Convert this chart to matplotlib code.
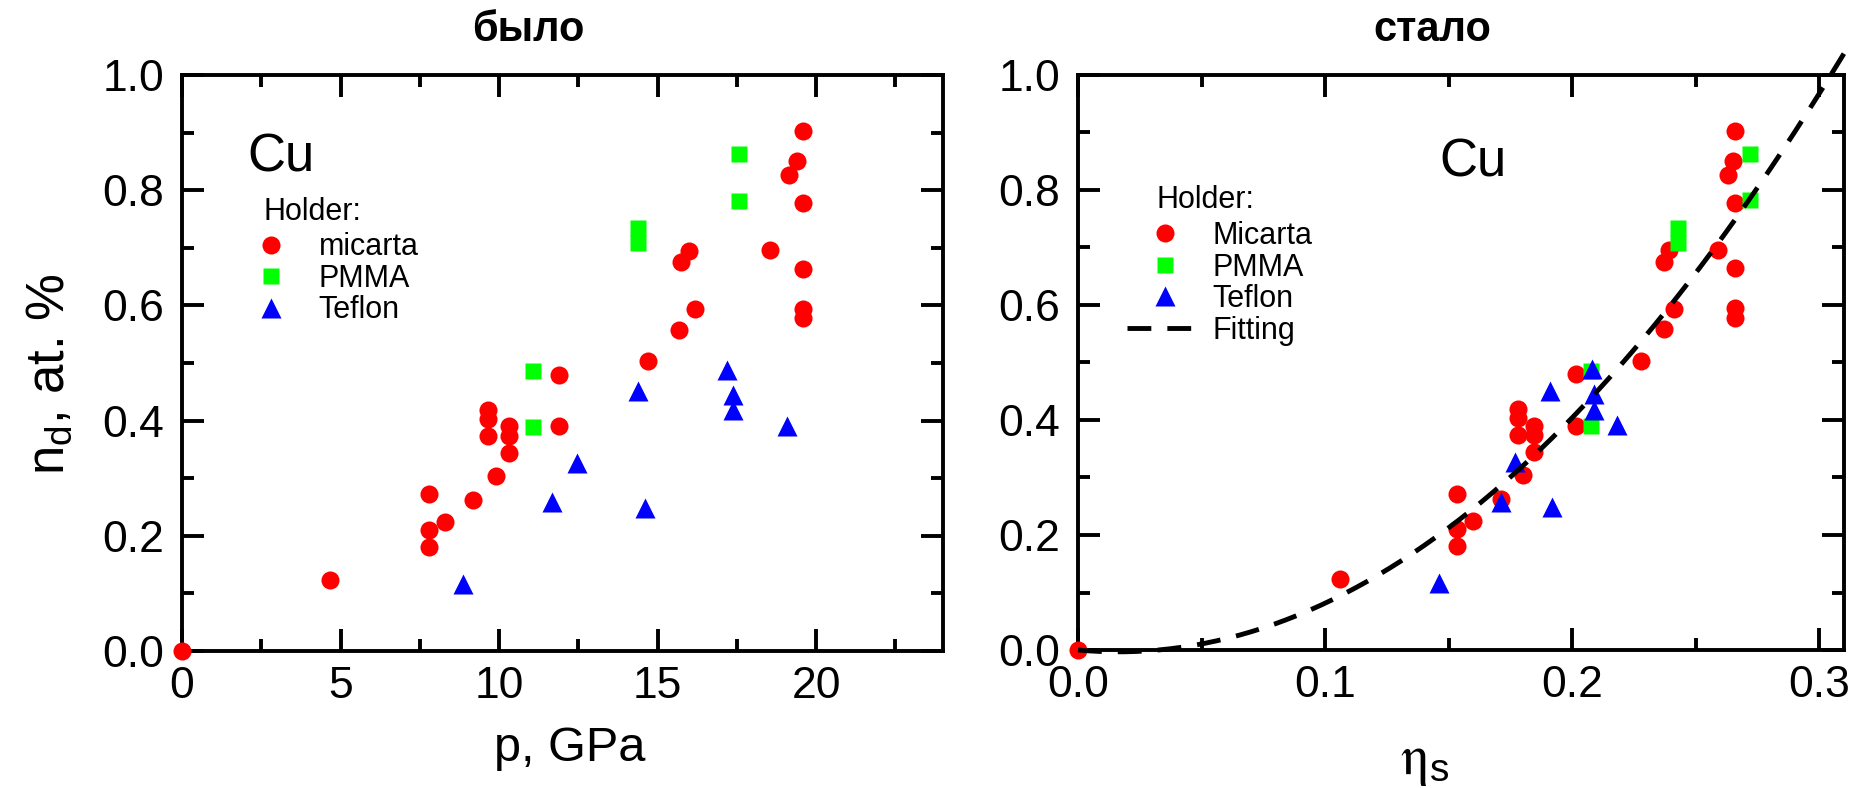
import numpy as np
import matplotlib
matplotlib.use('Agg')
import matplotlib.pyplot as plt
from matplotlib.ticker import MultipleLocator, FormatStrFormatter

plt.rcParams['font.family'] = ['Liberation Sans', 'DejaVu Sans']

# defect concentration n_d (at. %) with pressure p (GPa) and eta_s, by holder
micarta_nd = [0.903, 0.851, 0.826, 0.777, 0.696, 0.695, 0.675, 0.664, 0.593, 0.558,
              0.594, 0.578, 0.503, 0.480, 0.390, 0.419, 0.403, 0.374, 0.390, 0.374,
              0.344, 0.304, 0.262, 0.272, 0.224, 0.210, 0.181, 0.124, 0.0]
micarta_p = [19.58, 19.39, 19.14, 19.58, 18.53, 16.0, 15.75, 19.58, 16.18, 15.67,
             19.58, 19.58, 14.69, 11.89, 11.89, 9.66, 9.66, 9.66, 10.3, 10.3,
             10.3, 9.89, 9.18, 7.79, 8.28, 7.79, 7.79, 4.66, 0.0]
micarta_eta = [0.266, 0.265, 0.263, 0.266, 0.259, 0.239, 0.237, 0.266, 0.241, 0.237,
               0.266, 0.266, 0.228, 0.2015, 0.2015, 0.178, 0.178, 0.178, 0.1846, 0.1846,
               0.1846, 0.180, 0.171, 0.1533, 0.160, 0.1533, 0.1533, 0.106, 0.0]

pmma_nd = [0.862, 0.782, 0.734, 0.708, 0.486, 0.389]
pmma_p = [17.58, 17.58, 14.37, 14.37, 11.07, 11.07]
pmma_eta = [0.272, 0.272, 0.243, 0.243, 0.2075, 0.2075]

teflon_nd = [0.488, 0.451, 0.445, 0.418, 0.391, 0.327, 0.258, 0.249, 0.117]
teflon_p = [17.18, 14.37, 17.39, 17.39, 19.08, 12.46, 11.66, 14.6, 8.87]
teflon_eta = [0.208, 0.191, 0.209, 0.209, 0.218, 0.177, 0.171, 0.192, 0.146]

# quadratic fit n_d = A*eta^2 + B*eta
FIT_A = 12.06
FIT_B = -0.392
FIT_X_MAX = 0.31

W, H = 1855, 788
fig = plt.figure(figsize=(W / 100, H / 100), dpi=100)
ax1 = fig.add_axes([182 / W, 1 - 651 / H, 761 / W, 576 / H])
ax2 = fig.add_axes([1078 / W, 1 - 650 / H, 766 / W, 575 / H])


def style_axes(ax):
    for s in ax.spines.values():
        s.set_linewidth(2.8)
    ax.tick_params(which='both', direction='in', top=True, right=True, width=2.8)
    ax.tick_params(which='major', length=16)
    ax.tick_params(which='minor', length=8.5)
    ax.tick_params(axis='x', labelsize=32, pad=11)
    ax.tick_params(axis='y', labelsize=32, pad=13)
    ax.set_ylim(0, 1.0)
    ax.yaxis.set_major_locator(MultipleLocator(0.2))
    ax.yaxis.set_minor_locator(MultipleLocator(0.1))
    ax.yaxis.set_major_formatter(FormatStrFormatter('%.1f'))


def draw_points(ax, xm, xp, xt):
    h1, = ax.plot(xm, micarta_nd, 'o', color='#ff0000', ms=13, mec='none', clip_on=False, zorder=3)
    h2, = ax.plot(xp, pmma_nd, 's', color='#00ff00', ms=12, mec='none', clip_on=False, zorder=3)
    h3, = ax.plot(xt, teflon_nd, '^', color='#0000ff', ms=15, mec='none', clip_on=False, zorder=3)
    return [h1, h2, h3]


# left: vs pressure
style_axes(ax1)
ax1.set_xlim(0, 24)
ax1.xaxis.set_major_locator(MultipleLocator(5))
ax1.xaxis.set_minor_locator(MultipleLocator(2.5))
ax1.xaxis.set_major_formatter(FormatStrFormatter('%d'))
hl = draw_points(ax1, micarta_p, pmma_p, teflon_p)

ax1.set_xlabel('p, GPa', fontsize=35)
ax1.xaxis.set_label_coords(0.51, -0.13)
ax1.set_ylabel(r'n$_\mathregular{d}$, at. %', fontsize=38)
ax1.yaxis.set_label_coords(-0.14, 0.48)
ax1.text(0.455, 1.078, 'было', transform=ax1.transAxes, ha='center', va='center',
         fontsize=30, fontweight='bold')
ax1.text(0.086, 0.856, 'Cu', transform=ax1.transAxes, ha='left', va='center', fontsize=38)
ax1.text(0.107, 0.762, 'Holder:', transform=ax1.transAxes, ha='left', va='center', fontsize=22)
ax1.legend(hl, ['micarta', 'PMMA', 'Teflon'], loc='upper left', bbox_to_anchor=(0.067, 0.727),
           frameon=False, fontsize=22, handlelength=2.5, handletextpad=0.3,
           labelspacing=0.05, borderpad=0, borderaxespad=0, numpoints=1)

# right: vs eta_s with fit
style_axes(ax2)
ax2.set_xlim(0, 0.31)
ax2.xaxis.set_major_locator(MultipleLocator(0.1))
ax2.xaxis.set_minor_locator(MultipleLocator(0.05))
ax2.xaxis.set_major_formatter(FormatStrFormatter('%.1f'))
hr = draw_points(ax2, micarta_eta, pmma_eta, teflon_eta)

xf = np.linspace(0, FIT_X_MAX, 200)
yf = FIT_A * xf ** 2 + FIT_B * xf
hf, = ax2.plot(xf, yf, color='black', lw=3.5, ls='--', dashes=(4.9, 3.3), clip_on=False, zorder=4)

ax2.set_xlabel(r'$\mathrm{\eta}_\mathregular{s}$', fontsize=40, math_fontfamily='stix')
ax2.xaxis.set_label_coords(0.452, -0.15)
ax2.text(0.462, 1.078, 'стало', transform=ax2.transAxes, ha='center', va='center',
         fontsize=30, fontweight='bold')
ax2.text(0.472, 0.848, 'Cu', transform=ax2.transAxes, ha='left', va='center', fontsize=38)
ax2.text(0.102, 0.782, 'Holder:', transform=ax2.transAxes, ha='left', va='center', fontsize=22)
ax2.legend(hr + [hf], ['Micarta', 'PMMA', 'Teflon', 'Fitting'], loc='upper left',
           bbox_to_anchor=(0.064, 0.746), frameon=False, fontsize=22, handlelength=2.5,
           handletextpad=0.3, labelspacing=0.05, borderpad=0, borderaxespad=0, numpoints=1)

fig.savefig('out.png', dpi=100)
